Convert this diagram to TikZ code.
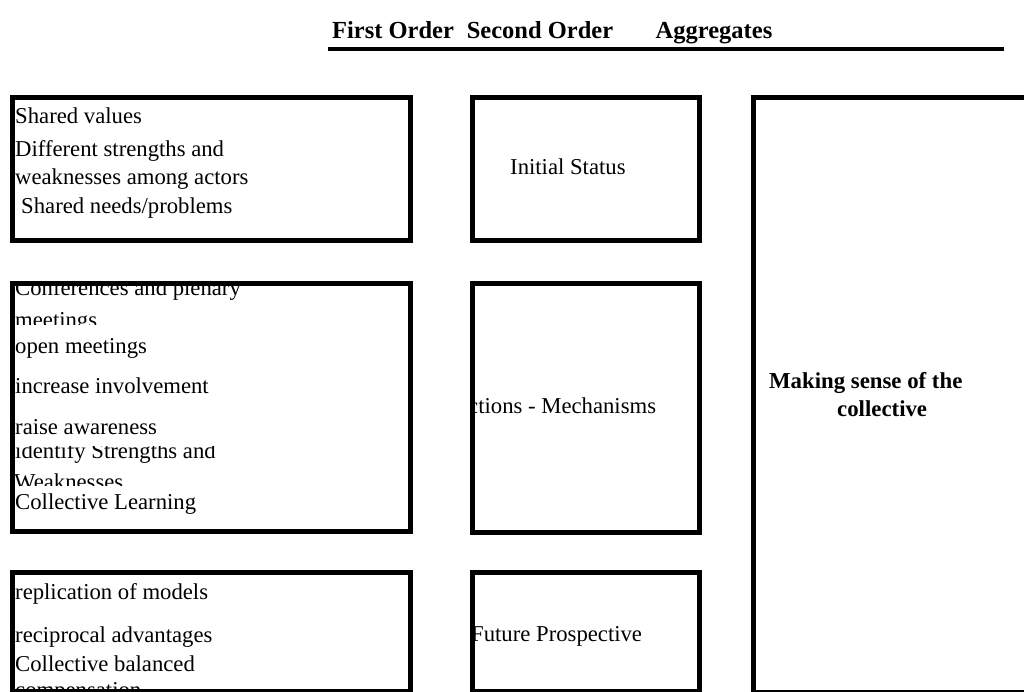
\documentclass[tikz,border=0pt]{standalone}
\usepackage{fontspec}
\setmainfont{Liberation Serif}
\begin{document}
\begin{tikzpicture}[x=1pt,y=-1pt,
  box/.style={draw=black,line width=5pt,inner sep=0pt,anchor=north west},
  txt/.style={anchor=base west,inner sep=0pt,font=\fontsize{22.7}{27}\selectfont},
  hdr/.style={anchor=base,inner sep=0pt,font=\fontsize{24.5}{29}\selectfont\bfseries},
  agg/.style={anchor=base west,inner sep=0pt,font=\fontsize{22.8}{27}\selectfont\bfseries}]
\useasboundingbox (0,0) rectangle (1024,692);
\clip (0,0) rectangle (1024,692);
% headers
\node[hdr] (h1) at (393,39) {First Order};
\node[hdr] (h2) at (540,39) {Second Order};
\node[hdr] (h3) at (714,39) {Aggregates};
\coordinate (r1) at (328,49);
\coordinate (r2) at (1004,49);
\draw[line width=4.5pt] (r1) -- (r2);
% column A texts
\node[txt] (t1) at (15,124) {Shared values};
\node[txt] (t2) at (15,157) {Different strengths and};
\node[txt] (t3) at (15,185) {weaknesses among actors};
\node[txt] (t4) at (21,214) {Shared needs/problems};
\begin{scope}
\clip (12,284) rectangle (406,527);
\node[txt] (t5) at (15,295) {Conferences and plenary};
\begin{scope}
\clip (0,300) rectangle (406,324);
\node[txt] (t6) at (15,327) {meetings};
\end{scope}
\node[txt] (t7) at (15,353) {open meetings};
\node[txt] (t8) at (15,393) {increase involvement};
\node[txt] (t9) at (15,434) {raise awareness};
\begin{scope}
\clip (0,446) rectangle (406,470);
\node[txt] (t10) at (15,458) {identify Strengths and};
\end{scope}
\begin{scope}
\clip (0,466) rectangle (406,485);
\node[txt] (t11) at (14,489) {Weaknesses};
\end{scope}
\node[txt] (t12) at (15,509) {Collective Learning};
\end{scope}
\node[txt] (t13) at (15,599) {replication of models};
\node[txt] (t14) at (15,642) {reciprocal advantages};
\node[txt] (t15) at (15,671) {Collective balanced};
\node[txt] (t16) at (15,697) {compensation};
% column B texts
\node[txt] (s1) at (510,175) {Initial Status};
\begin{scope}
\clip (472,284) rectangle (695,528);
\node[txt] (s2) at (468,413) {ctions - Mechanisms};
\end{scope}
\begin{scope}
\clip (472,573) rectangle (695,688);
\node[txt] (s3) at (471,641) {Future Prospective};
\end{scope}
% aggregate texts
\node[agg] (g1) at (769,388) {Making sense of the};
\node[agg] (g2) at (837,416) {collective};
% boxes
\node[box,minimum width=398pt,minimum height=143pt] (a1) at (10,95) {};
\node[box,minimum width=398pt,minimum height=248pt] (a2) at (10,281) {};
\node[box,minimum width=398pt,minimum height=119pt] (a3) at (10,570) {};
\node[box,minimum width=227pt,minimum height=143pt] (b1) at (470,95) {};
\node[box,minimum width=227pt,minimum height=249pt] (b2) at (470,281) {};
\node[box,minimum width=227pt,minimum height=119pt] (b3) at (470,570) {};
\node[box,minimum width=300pt,minimum height=595pt] (c1) at (751,95) {};
\end{tikzpicture}
\end{document}
